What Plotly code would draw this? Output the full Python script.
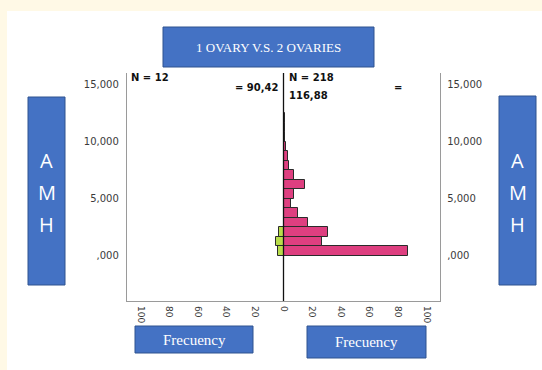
import plotly.graph_objects as go

# AMH histogram bins (SPSS-style population pyramid)
bin_width = 15000 / 18
bin_starts = [i * bin_width for i in range(15)]
one_ovary = [4, 5, 3, 0, 0, 0, 0, 0, 0, 0, 0, 0, 0, 0, 0]
two_ovaries = [87, 27, 31, 17, 10, 5, 7, 15, 7, 4, 3, 2, 1, 1, 1]

amh_ticks = [0, 5000, 10000, 15000]
amh_tick_text = [",000", "5,000", "10,000", "15,000"]
freq_ticks = [-100, -80, -60, -40, -20, 0, 20, 40, 60, 80, 100]
freq_tick_text = ["100", "80", "60", "40", "20", "0", "20", "40", "60", "80", "100"]

W, H = 542, 370
PL, PR, PT, PB = 127, 440, 73, 301


def px(x):
    return (x - PL) / (PR - PL)


def py(y):
    return (PB - y) / (PB - PT)


centers = [s + bin_width / 2 for s in bin_starts]

fig = go.Figure()
fig.add_trace(go.Bar(
    y=centers, x=[-c for c in one_ovary], width=bin_width, orientation="h",
    marker=dict(color="#B8DD4A", line=dict(color="#2b2b2b", width=1)),
    showlegend=False, hoverinfo="skip", yaxis="y",
))
fig.add_trace(go.Bar(
    y=centers, x=two_ovaries, width=bin_width, orientation="h",
    marker=dict(color="#DE3F80", line=dict(color="#2b2b2b", width=1)),
    showlegend=False, hoverinfo="skip", yaxis="y2",
))

axis_grey = "#9a9a9a"
tick_font = dict(family="DejaVu Sans", size=10, color="#3a3a3a")
yr = [-3970, 16030]

fig.update_layout(
    width=W, height=H, autosize=False,
    margin=dict(l=PL, r=W - PR, t=PT, b=H - PB, pad=0),
    paper_bgcolor="#FFF9E6", plot_bgcolor="white",
    barmode="overlay", bargap=0,
    xaxis=dict(range=[-109.5, 109.5], tickvals=freq_ticks, ticktext=freq_tick_text,
               tickangle=90, showgrid=False, zeroline=False, showline=True,
               linecolor=axis_grey, linewidth=1.3, ticks="", ticklabelstandoff=2,
               tickfont=dict(family="DejaVu Sans", size=9, color="#3a3a3a")),
    yaxis=dict(range=yr, tickvals=amh_ticks, ticktext=amh_tick_text, showgrid=False,
               zeroline=False, showline=True, linecolor=axis_grey, linewidth=1.3,
               ticks="", ticklabelstandoff=5, tickfont=tick_font),
    yaxis2=dict(range=yr, tickvals=amh_ticks, ticktext=amh_tick_text, showgrid=False,
                zeroline=False, showline=True, linecolor=axis_grey, linewidth=1.3,
                ticks="", ticklabelstandoff=4, tickfont=tick_font,
                overlaying="y", side="right"),
)

shapes = [
    # white page area over the cream border
    dict(type="rect", xref="paper", yref="paper", x0=px(7), x1=px(W), y0=py(11), y1=py(H),
         fillcolor="white", line=dict(width=0), layer="below"),
    # centre divider at zero frequency
    dict(type="line", xref="x", yref="paper", x0=0, x1=0, y0=0, y1=1,
         line=dict(color="#111111", width=1.3), layer="above"),
]

boxes = [
    (163, 27, 374, 67),    # title
    (28, 97, 65, 285),     # left AMH
    (499, 96, 536, 285),   # right AMH
    (135, 326, 253, 353),  # left Frecuency
    (307, 326, 426, 358),  # right Frecuency
]
for x0, y0, x1, y1 in boxes:
    shapes.append(dict(type="rect", xref="paper", yref="paper",
                       x0=px(x0), x1=px(x1), y0=py(y1), y1=py(y0),
                       fillcolor="#4472C4", line=dict(color="#2F528F", width=1),
                       layer="above"))
fig.update_layout(shapes=shapes)

serif = "Liberation Serif"
sans = "Open Sans"
annotations = []


def label(text, x, y, size, family, color, xanchor="center", bold=False):
    annotations.append(dict(
        text=f"<b>{text}</b>" if bold else text, x=px(x), y=py(y),
        xref="paper", yref="paper", xanchor=xanchor, yanchor="middle",
        showarrow=False, font=dict(family=family, size=size, color=color)))


label("1 OVARY V.S. 2 OVARIES", 268.5, 47, 13, serif, "white")
label("Frecuency", 194, 340, 15, serif, "white")
label("Frecuency", 366, 342, 15, serif, "white")
for letter, yl in (("A", 160), ("M", 192), ("H", 224)):
    label(letter, 46.5, yl, 20, sans, "white")
    label(letter, 517.5, yl, 20, sans, "white")

stat_color = "#111111"
label("N = 12", 129, 77.5, 10, "DejaVu Sans", stat_color, xanchor="left", bold=True)
label("= 90,42", 281, 87, 10, "DejaVu Sans", stat_color, xanchor="right", bold=True)
label("N = 218", 287, 77.5, 10, "DejaVu Sans", stat_color, xanchor="left", bold=True)
label("116,88", 287, 95, 10, "DejaVu Sans", stat_color, xanchor="left", bold=True)
label("=", 392, 87.5, 10, "DejaVu Sans", stat_color, xanchor="left", bold=True)
fig.update_layout(annotations=annotations)

fig.write_html("out.html")
